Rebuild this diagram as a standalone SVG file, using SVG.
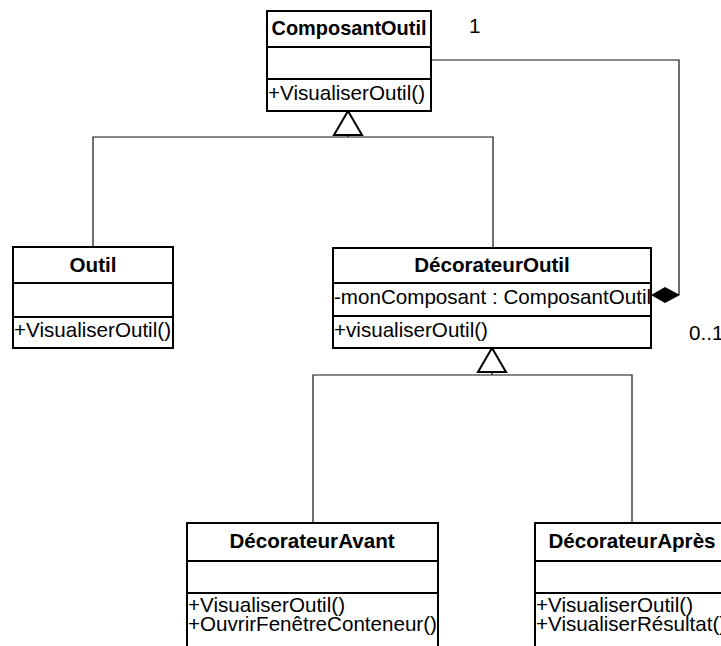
<svg xmlns="http://www.w3.org/2000/svg" width="721" height="646" viewBox="0 0 721 646">
<style>
.box{fill:#fff;stroke:#000;stroke-width:2}
.div{stroke:#000;stroke-width:2}
.t{font-family:"Liberation Sans",Arial,sans-serif;font-size:20.6px;fill:#000}
.b{font-weight:bold;text-anchor:middle}
.c{fill:none;stroke:#111;stroke-width:1.2}
.gen{fill:#fff;stroke:#000;stroke-width:2}
</style>
<rect width="721" height="646" fill="#fff"/>
<g id="connectors">
<polyline class="c" points="348,135 348,137"/>
<polyline class="c" points="93,247 93,137 493,137 493,248"/>
<polyline class="c" points="431,60 679,60 679,295"/>
<polyline class="c" points="492,372 492,375"/>
<polyline class="c" points="313,523 313,375 632,375 632,523"/>
<polygon class="gen" points="348,111 334,135 362,135"/>
<polygon class="gen" points="492,348 478,372 506,372"/>
<polygon points="651,295 665,287 680,295 665,303" fill="#000"/>
<text class="t" x="469" y="33">1</text>
<text class="t" x="689" y="340">0..1</text>
</g>
<g id="ComposantOutil">
<rect class="box" x="267" y="11" width="164" height="100"/>
<line class="div" x1="267" y1="47" x2="431" y2="47"/>
<line class="div" x1="267" y1="79" x2="431" y2="79"/>
<text class="t b" x="349" y="34.5" textLength="155" lengthAdjust="spacingAndGlyphs">ComposantOutil</text>
<text class="t" x="268" y="100">+VisualiserOutil()</text>
</g>
<g id="Outil">
<rect class="box" x="13" y="247" width="160" height="101"/>
<line class="div" x1="13" y1="283" x2="173" y2="283"/>
<line class="div" x1="13" y1="317" x2="173" y2="317"/>
<text class="t b" x="93" y="272">Outil</text>
<text class="t" x="14" y="337">+VisualiserOutil()</text>
</g>
<g id="DecorateurOutil">
<rect class="box" x="333" y="248" width="318" height="100"/>
<line class="div" x1="333" y1="283" x2="651" y2="283"/>
<line class="div" x1="333" y1="316" x2="651" y2="316"/>
<text class="t b" x="492" y="272">DécorateurOutil</text>
<text class="t" x="334" y="304">-monComposant : ComposantOutil</text>
<text class="t" x="334" y="337">+visualiserOutil()</text>
</g>
<g id="DecorateurAvant">
<rect class="box" x="187" y="523" width="251" height="140"/>
<line class="div" x1="187" y1="561" x2="438" y2="561"/>
<line class="div" x1="187" y1="593" x2="438" y2="593"/>
<text class="t b" x="312" y="548">DécorateurAvant</text>
<text class="t" x="188" y="612">+VisualiserOutil()</text>
<text class="t" x="188" y="631">+OuvrirFenêtreConteneur()</text>
</g>
<g id="DecorateurApres">
<rect class="box" x="535" y="523" width="200" height="140"/>
<line class="div" x1="535" y1="561" x2="735" y2="561"/>
<line class="div" x1="535" y1="593" x2="735" y2="593"/>
<text class="t b" x="632" y="548">DécorateurAprès</text>
<text class="t" x="536" y="612">+VisualiserOutil()</text>
<text class="t" x="536" y="631">+VisualiserRésultat()</text>
</g>
</svg>
